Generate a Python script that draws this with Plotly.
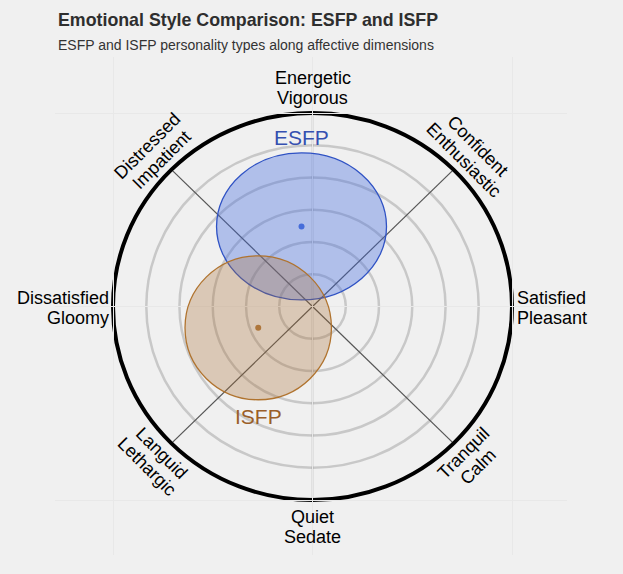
import numpy as np
import plotly.graph_objects as go

# ---------------- data ----------------
TYPES = ["ESFP", "ISFP"]
CENTER_X = [-0.055, -0.272]
CENTER_Y = [0.414, -0.110]
SPREAD_X = [0.426, 0.367]
SPREAD_Y = [0.380, 0.372]

DIM_LINE1 = ["Energetic", "Confident", "Satisfied", "Tranquil", "Quiet", "Languid",
             "Dissatisfied", "Distressed"]
DIM_LINE2 = ["Vigorous", "Enthusiastic", "Pleasant", "Calm", "Sedate", "Lethargic",
             "Gloomy", "Impatient"]
DIM_ANGLES = [90, 45, 0, -45, -90, -135, 180, 135]
RING_LEVELS = [0.167, 0.333, 0.5, 0.667, 0.833]
OUTER_LEVEL = 1.0

TITLE = "Emotional Style Comparison: ESFP and ISFP"
SUBTITLE = "ESFP and ISFP personality types along affective dimensions"

# ---------------- style ----------------
BG = "#f0f0f0"
FILL = {"ESFP": "rgba(65,105,225,0.36)", "ISFP": "rgba(170,110,50,0.30)"}
EDGE = {"ESFP": "#2f52c4", "ISFP": "#b0732e"}
DOT = {"ESFP": "#4a6fd6", "ISFP": "#b07a40"}
TXT = {"ESFP": "#3650b0", "ISFP": "#9a5e28"}
FONT = "Liberation Sans, Arial, sans-serif"
LBL_SIZE = 18
HALF_GAP = 10  # half the pixel distance between the two label lines

fig = go.Figure()
shapes = []
for r in RING_LEVELS:
    shapes.append(dict(type="circle", xref="x", yref="y", x0=-r, x1=r, y0=-r, y1=r,
                       line=dict(color="#c8c8c8", width=2.5), layer="below"))
for a in DIM_ANGLES:
    t = np.deg2rad(a)
    shapes.append(dict(type="line", xref="x", yref="y", x0=0, y0=0,
                       x1=OUTER_LEVEL * np.cos(t), y1=OUTER_LEVEL * np.sin(t),
                       line=dict(color="#555555", width=1.2), layer="below"))
shapes.append(dict(type="circle", xref="x", yref="y", x0=-OUTER_LEVEL, x1=OUTER_LEVEL,
                   y0=-OUTER_LEVEL, y1=OUTER_LEVEL, line=dict(color="black", width=4),
                   layer="below"))
for name, cx, cy, sx, sy in zip(TYPES, CENTER_X, CENTER_Y, SPREAD_X, SPREAD_Y):
    shapes.append(dict(type="circle", xref="x", yref="y", x0=cx - sx, x1=cx + sx,
                       y0=cy - sy, y1=cy + sy, fillcolor=FILL[name],
                       line=dict(color=EDGE[name], width=1.3), layer="above"))

for name, cx, cy in zip(TYPES, CENTER_X, CENTER_Y):
    fig.add_trace(go.Scatter(x=[cx], y=[cy], mode="markers",
                             marker=dict(color=DOT[name], size=6), showlegend=False,
                             hoverinfo="skip"))

annotations = []
lfont = dict(family=FONT, size=LBL_SIZE, color="black")
for l1, l2, a in zip(DIM_LINE1, DIM_LINE2, DIM_ANGLES):
    t = np.deg2rad(a)
    if a in (90, -90):
        y = 1.129 if a == 90 else -1.1395
        for txt, s in ((l1, 1), (l2, -1)):
            annotations.append(dict(x=0, y=y, text=txt, xanchor="center", yanchor="middle",
                                    yshift=s * HALF_GAP))
    elif a in (0, 180):
        xa = "left" if a == 0 else "right"
        for txt, s in ((l1, 1), (l2, -1)):
            annotations.append(dict(x=OUTER_LEVEL * np.cos(t), y=0, text=txt, xanchor=xa,
                                    yanchor="middle", xshift=3 if a == 0 else -2,
                                    yshift=s * HALF_GAP - 1))
    else:
        rr = 1.12
        ang = 45 if a in (45, -135) else -45
        ux = 0.7071 if ang == 45 else -0.7071
        uy = 0.7071
        for txt, s in ((l1, 1), (l2, -1)):
            annotations.append(dict(x=rr * np.cos(t), y=rr * np.sin(t), text=txt,
                                    xanchor="center", yanchor="middle", textangle=ang,
                                    xshift=s * HALF_GAP * ux, yshift=s * HALF_GAP * uy))
for ann in annotations:
    ann.update(xref="x", yref="y", font=lfont, showarrow=False)

annotations.append(dict(x=CENTER_X[0], y=CENTER_Y[0] + SPREAD_Y[0], xref="x", yref="y",
                        text=TYPES[0], showarrow=False, xanchor="center", yanchor="bottom",
                        yshift=2, font=dict(family=FONT, size=21, color=TXT["ESFP"])))
annotations.append(dict(x=CENTER_X[1], y=CENTER_Y[1] - SPREAD_Y[1], xref="x", yref="y",
                        text=TYPES[1], showarrow=False, xanchor="center", yanchor="top",
                        yshift=-3, font=dict(family=FONT, size=21, color=TXT["ISFP"])))
annotations.append(dict(x=0, y=1.074, xref="paper", yref="paper", xshift=1,
                        text="<b>" + TITLE + "</b>", showarrow=False, xanchor="left",
                        yanchor="middle", font=dict(family=FONT, size=17.8, color="#2e2e2e")))
annotations.append(dict(x=0, y=1.024, xref="paper", yref="paper", xshift=1, text=SUBTITLE,
                        showarrow=False, xanchor="left", yanchor="middle",
                        font=dict(family=FONT, size=14, color="#333333")))

fig.update_layout(
    width=623, height=574,
    margin=dict(l=55, r=56, t=57, b=19),
    paper_bgcolor=BG, plot_bgcolor=BG,
    shapes=shapes, annotations=annotations, showlegend=False,
    xaxis=dict(range=[-1.2907, 1.2757], tickvals=[-1, 0, 1], showticklabels=False,
               gridcolor="#e8e8e8", gridwidth=1, zeroline=False, showline=False, fixedrange=True),
    yaxis=dict(range=[-1.2842, 1.2894], tickvals=[-1, 0, 1], showticklabels=False,
               gridcolor="#e8e8e8", gridwidth=1, zeroline=False, showline=False, fixedrange=True),
)

fig.write_html("out.html", config={"displayModeBar": False},
               post_script="document.body.style.margin='0';")
